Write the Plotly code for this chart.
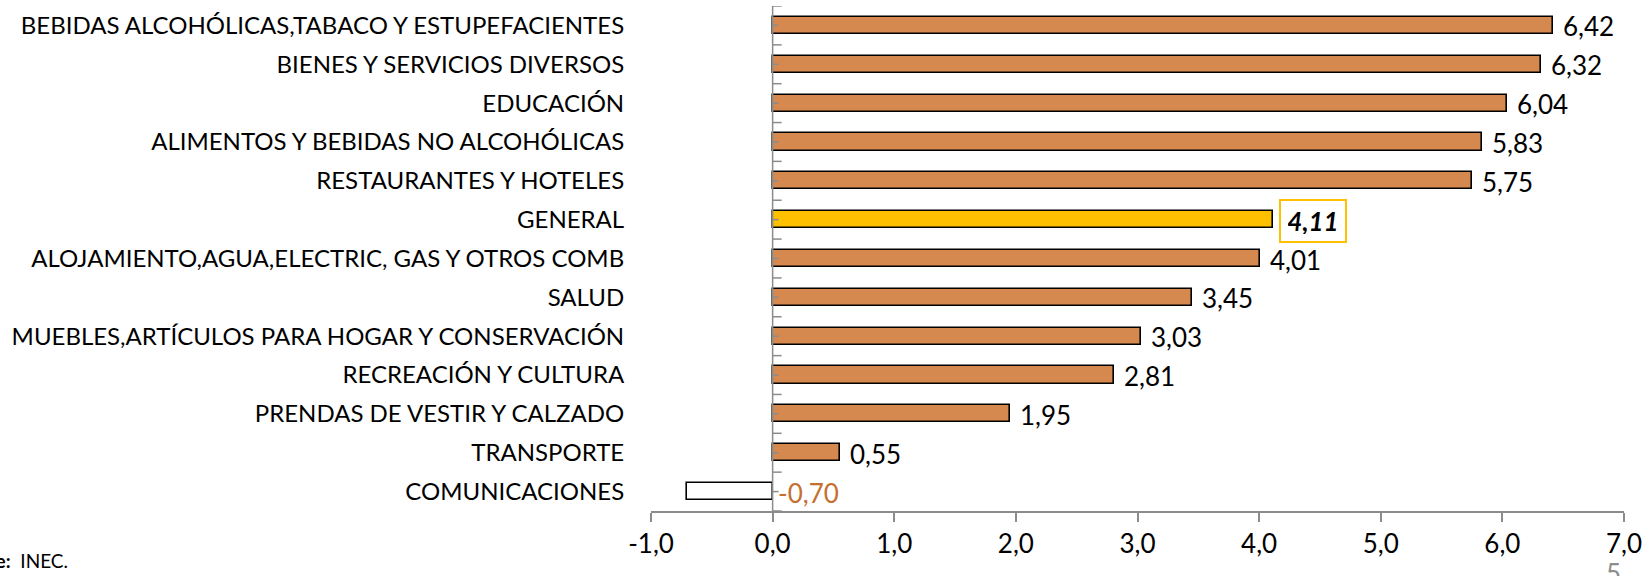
import plotly.graph_objects as go

categories = [
    "BEBIDAS ALCOHÓLICAS,TABACO Y ESTUPEFACIENTES",
    "BIENES Y SERVICIOS DIVERSOS",
    "EDUCACIÓN",
    "ALIMENTOS Y BEBIDAS NO ALCOHÓLICAS",
    "RESTAURANTES Y HOTELES",
    "GENERAL",
    "ALOJAMIENTO,AGUA,ELECTRIC, GAS Y OTROS COMB",
    "SALUD",
    "MUEBLES,ARTÍCULOS PARA HOGAR Y CONSERVACIÓN",
    "RECREACIÓN Y CULTURA",
    "PRENDAS DE VESTIR Y CALZADO",
    "TRANSPORTE",
    "COMUNICACIONES",
]
values = [6.42, 6.32, 6.04, 5.83, 5.75, 4.11, 4.01, 3.45, 3.03, 2.81, 1.95, 0.55, -0.70]
value_labels = ["6,42", "6,32", "6,04", "5,83", "5,75", "4,11", "4,01", "3,45", "3,03", "2,81", "1,95", "0,55", "-0,70"]
x_tickvals = [-1, 0, 1, 2, 3, 4, 5, 6, 7]
x_ticktext = ["-1,0", "0,0", "1,0", "2,0", "3,0", "4,0", "5,0", "6,0", "7,0"]

ORANGE = "#D6894F"
GOLD = "#FFC000"
AXIS = "#8C8C8C"
FONT = "Lato, 'Open Sans', sans-serif"
NUM_SIZE = 26

fills = []
for c, v in zip(categories, values):
    if c == "GENERAL":
        fills.append(GOLD)
    elif v < 0:
        fills.append("#FFFFFF")
    else:
        fills.append(ORANGE)

fig = go.Figure()
fig.add_trace(go.Bar(
    x=values, y=categories, orientation="h",
    marker=dict(color=fills, line=dict(color="#000000", width=1.6)),
    width=0.44, showlegend=False, hoverinfo="skip",
))

# data labels
for c, v, t in zip(categories, values, value_labels):
    if c == "GENERAL":
        fig.add_annotation(x=v, y=c, xref="x", yref="y", text="<b><i>" + t + "</i></b>",
                           showarrow=False, xanchor="left", xshift=6, yshift=-1,
                           font=dict(family=FONT, size=NUM_SIZE, color="#000000"),
                           bordercolor=GOLD, borderwidth=2, borderpad=7, width=50, height=26,
                           bgcolor="#FFFFFF")
    elif v < 0:
        fig.add_annotation(x=0, y=c, xref="x", yref="y", text=t, showarrow=False,
                           xanchor="left", xshift=3, yshift=-1,
                           font=dict(family=FONT, size=NUM_SIZE, color="#C4702F"))
    else:
        fig.add_annotation(x=v, y=c, xref="x", yref="y", text=t, showarrow=False,
                           xanchor="left", xshift=8, yshift=-1,
                           font=dict(family=FONT, size=NUM_SIZE, color="#000000"))

# vertical axis at zero with ticks
n = len(categories)
fig.add_shape(type="line", xref="x", yref="y", x0=0, x1=0, y0=-0.5, y1=n - 0.5,
              line=dict(color=AXIS, width=1.5), layer="above")
for k in range(n + 1):
    fig.add_shape(type="line", xref="x", yref="y", xsizemode="pixel", xanchor=0,
                  x0=0, x1=9, y0=k - 0.5, y1=k - 0.5,
                  line=dict(color=AXIS, width=1.5), layer="above")
for k in range(n):
    fig.add_shape(type="line", xref="x", yref="y", xsizemode="pixel", xanchor=0,
                  x0=0, x1=6, y0=k, y1=k,
                  line=dict(color=AXIS, width=1.5), layer="above")

fig.update_xaxes(range=[-1, 7], tickvals=x_tickvals, ticktext=x_ticktext, automargin=False,
                 showgrid=False, zeroline=False, showline=True, linecolor=AXIS, linewidth=1.5,
                 ticks="outside", ticklen=9, tickcolor=AXIS, tickwidth=1.5,
                 tickfont=dict(family=FONT, size=NUM_SIZE, color="#000000"))
fig.update_yaxes(range=[n - 0.5, -0.5], showgrid=False, zeroline=False, showline=False,
                 automargin=False,
                 ticks="outside", ticklen=21, tickcolor="rgba(0,0,0,0)",
                 tickfont=dict(family=FONT, size=24, color="#000000"))

fig.add_annotation(xref="paper", yref="paper", x=0, y=0, xshift=-581, yshift=-49,
                   xanchor="right", yanchor="middle", showarrow=False,
                   text="<b>Fuente:</b>  INEC.",
                   font=dict(family=FONT, size=19, color="#000000"))
fig.add_annotation(xref="paper", yref="paper", x=1, y=0, xshift=-11, yshift=-44,
                   xanchor="center", yanchor="top", showarrow=False, text="5",
                   font=dict(family=FONT, size=26, color="#8C8C8C"))

fig.update_layout(width=1649, height=576, margin=dict(l=651, r=25, t=6, b=65),
                  plot_bgcolor="#FFFFFF", paper_bgcolor="#FFFFFF", bargap=0)
fig.write_html("out.html", config={"displayModeBar": False},
               post_script="document.body.style.margin='0';document.body.style.overflow='hidden';")
